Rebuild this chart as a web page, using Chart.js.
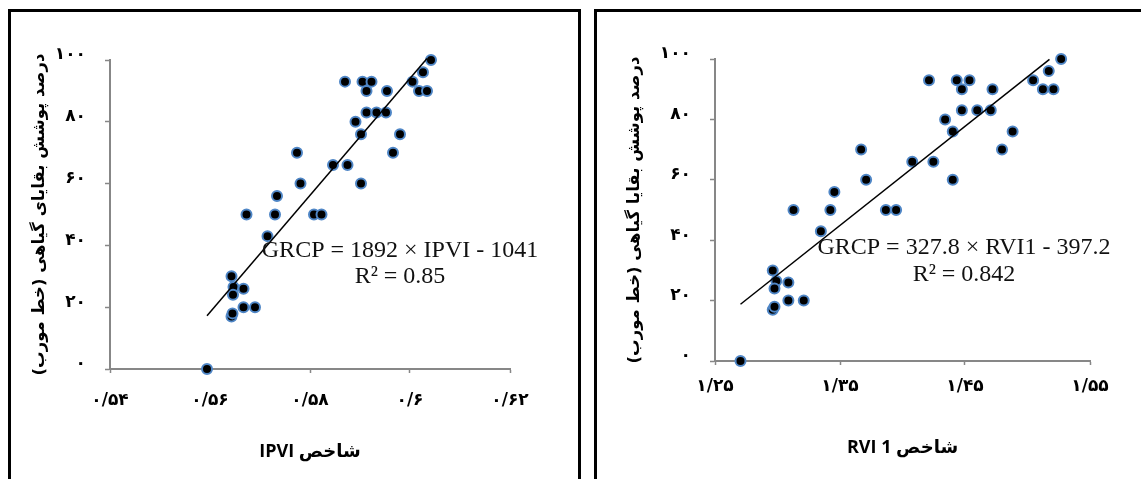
<!DOCTYPE html>
<html>
<head>
<meta charset="utf-8">
<script src="https://cdn.jsdelivr.net/npm/chart.js@4.4.1/dist/chart.umd.min.js"></script>
<style>
  html, body { margin: 0; background: #fff; overflow: hidden; }
  body { width: 1141px; height: 479px; position: relative; }
  .box { position: absolute; top: 9px; height: 540px; border: 3px solid #000; box-sizing: border-box; }
  canvas { position: absolute; top: 0; }
</style>
</head>
<body>
<div class="box" style="left:8px;width:573px;"></div>
<div class="box" style="left:594px;width:600px;"></div>
<canvas id="left_chart" dir="rtl" width="585" height="479" style="left:0px"></canvas>
<canvas id="right_chart" dir="rtl" width="559" height="479" style="left:582px"></canvas>
<script>
// cover values (same plots for both indices)
const grcp = [0, 17, 18, 30, 26.5, 24, 26, 20, 20, 50, 43, 50, 56, 70, 60, 50, 50, 66, 66,
              93, 80, 76, 60, 93, 90, 83, 93, 83, 83, 90, 70, 76, 93, 90, 96, 90, 100];

const ipvi = [0.5594, 0.5643, 0.5645, 0.5643, 0.5647, 0.5646, 0.5667, 0.5667, 0.5690, 0.5673,
              0.5715, 0.5730, 0.5734, 0.5774, 0.5781, 0.5808, 0.5823, 0.5846, 0.5875,
              0.5870, 0.5891, 0.5902, 0.5902, 0.5905, 0.5913, 0.5913, 0.5923, 0.5933, 0.5952,
              0.5954, 0.5966, 0.5980, 0.6005, 0.6018, 0.6026, 0.6034, 0.6042];

const rvi1 = [1.2704, 1.2962, 1.2976, 1.2962, 1.2991, 1.2976, 1.3087, 1.3087, 1.3210, 1.3128,
              1.3347, 1.3423, 1.3455, 1.3669, 1.3709, 1.3867, 1.3949, 1.4078, 1.4247,
              1.4212, 1.4341, 1.4402, 1.4402, 1.4434, 1.4475, 1.4475, 1.4536, 1.4598, 1.4706,
              1.4720, 1.4796, 1.4881, 1.5045, 1.5123, 1.5170, 1.5208, 1.5269];

// trend line ends as drawn
const ipviTrendX = [0.5594, 0.6034];
const ipviTrendY = [17.2, 100.5];
const rviTrendX = [1.2704, 1.5176];
const rviTrendY = [18.8, 99.9];

const yTickLabels = ['۰', '۲۰', '۴۰', '۶۰', '۸۰', '۱۰۰'];
const ipviTickLabels = ['۰/۵۴', '۰/۵۶', '۰/۵۸', '۰/۶', '۰/۶۲'];
const rviTickLabels = ['۱/۲۵', '۱/۳۵', '۱/۴۵', '۱/۵۵'];

const ipviEquation = ['GRCP = 1892 × IPVI - 1041', 'R² = 0.85'];
const rviEquation = ['GRCP = 327.8 × RVI1 - 397.2', 'R² = 0.842'];

const yTitleLeft = 'درصد پوشش بقایای گیاهی (خط مورب)';
const yTitleRight = 'درصد پوشش بقایا گیاهی (خط مورب)';
const xTitleLeft = 'شاخص IPVI';
const xTitleRight = 'شاخص RVI 1';

const AXIS_GREY = '#878787';
const PERSIAN_FONT = 'DejaVu Sans';

function toPoints(xs, ys){
    return xs.map((x, i) => ({x: x, y: ys[i]}));
}

// draws the regression text at a spot given in data units
const equationPlugin = {
    id: 'equation',
    afterDatasetsDraw(chart, args, opts){
        const ctx = chart.ctx;
        const xs = chart.scales.x;
        const ys = chart.scales.y;
        ctx.save();
        ctx.direction = 'ltr';
        ctx.font = '24px "Liberation Serif", "Times New Roman", serif';
        ctx.fillStyle = '#111';
        ctx.textAlign = 'center';
        ctx.textBaseline = 'middle';
        opts.lines.forEach((line, i) => {
            ctx.fillText(line, xs.getPixelForValue(opts.x), ys.getPixelForValue(opts.y[i]));
        });
        ctx.restore();
    }
};

function createScatter(ctx, cfg){
    const data = {
        datasets: [{
            type: 'line',
            data: toPoints(cfg.trendX, cfg.trendY),
            borderColor: '#000',
            borderWidth: 1.5,
            pointRadius: 0,
            fill: false,
            clip: false
        }, {
            type: 'scatter',
            data: toPoints(cfg.xs, cfg.ys),
            pointRadius: 5,
            pointBorderWidth: 2,
            pointBackgroundColor: '#000',
            pointBorderColor: '#4f86c6',
            clip: false
        }]
    };
    const options = {
        responsive: false,
        animation: false,
        devicePixelRatio: 1,
        layout: { padding: { top: cfg.padTop, right: cfg.padRight, left: 0, bottom: 0 } },
        plugins: {
            legend: { display: false },
            tooltip: { enabled: false },
            equation: cfg.equation
        },
        scales: {
            x: {
                type: 'linear',
                min: cfg.xMin, max: cfg.xMax,
                afterFit: (s) => { s.height = cfg.xAxisHeight; },
                border: { color: AXIS_GREY, width: 2 },
                grid: { drawOnChartArea: false, drawTicks: true, tickLength: 4, tickColor: AXIS_GREY, tickWidth: 1.5 },
                ticks: {
                    stepSize: cfg.xStep,
                    padding: cfg.xTickPad,
                    color: '#000',
                    font: { family: PERSIAN_FONT, size: 17, weight: 'bold' },
                    callback: (v, i) => cfg.xLabels[i]
                },
                title: {
                    display: true,
                    text: cfg.xTitle,
                    color: '#000',
                    font: { family: '"Open Sans", "DejaVu Sans"', size: 18, weight: 'bold' },
                    padding: { top: 0, bottom: cfg.xTitlePad }
                }
            },
            y: {
                type: 'linear',
                min: 0, max: 100,
                afterFit: (s) => { s.width = cfg.yAxisWidth; },
                border: { color: AXIS_GREY, width: 2 },
                grid: { drawOnChartArea: false, drawTicks: true, tickLength: 5, tickColor: AXIS_GREY, tickWidth: 1.5 },
                ticks: {
                    stepSize: 20,
                    padding: 19,
                    labelOffset: -5,
                    color: '#000',
                    font: { family: PERSIAN_FONT, size: 17, weight: 'bold' },
                    callback: (v, i) => yTickLabels[i]
                },
                title: {
                    display: true,
                    text: cfg.yTitle,
                    color: '#000',
                    font: { family: PERSIAN_FONT, size: 16.5, weight: 'bold' },
                    padding: { top: cfg.yTitlePad, bottom: 0 }
                }
            }
        }
    };
    return new Chart(ctx, { data: data, options: options, plugins: [equationPlugin] });
}

const leftChart = createScatter(document.getElementById('left_chart'), {
    xs: ipvi, ys: grcp, trendX: ipviTrendX, trendY: ipviTrendY,
    xMin: 0.54, xMax: 0.62, xStep: 0.02, xLabels: ipviTickLabels,
    xTitle: xTitleLeft, yTitle: yTitleLeft,
    padTop: 60, padRight: 75, yAxisWidth: 110, xAxisHeight: 110,
    xTickPad: 17, xTitlePad: 16, yTitlePad: 30,
    equation: { lines: ipviEquation, x: 0.598, y: [38.2, 29.8] }
});

const rightChart = createScatter(document.getElementById('right_chart'), {
    xs: rvi1, ys: grcp, trendX: rviTrendX, trendY: rviTrendY,
    xMin: 1.25, xMax: 1.55, xStep: 0.1, xLabels: rviTickLabels,
    xTitle: xTitleRight, yTitle: yTitleRight,
    padTop: 59, padRight: 51, yAxisWidth: 133, xAxisHeight: 118,
    xTickPad: 11, xTitlePad: 20, yTitlePad: 43,
    equation: { lines: rviEquation, x: 1.4492, y: [37.4, 28.5] }
});
</script>
</body>
</html>
